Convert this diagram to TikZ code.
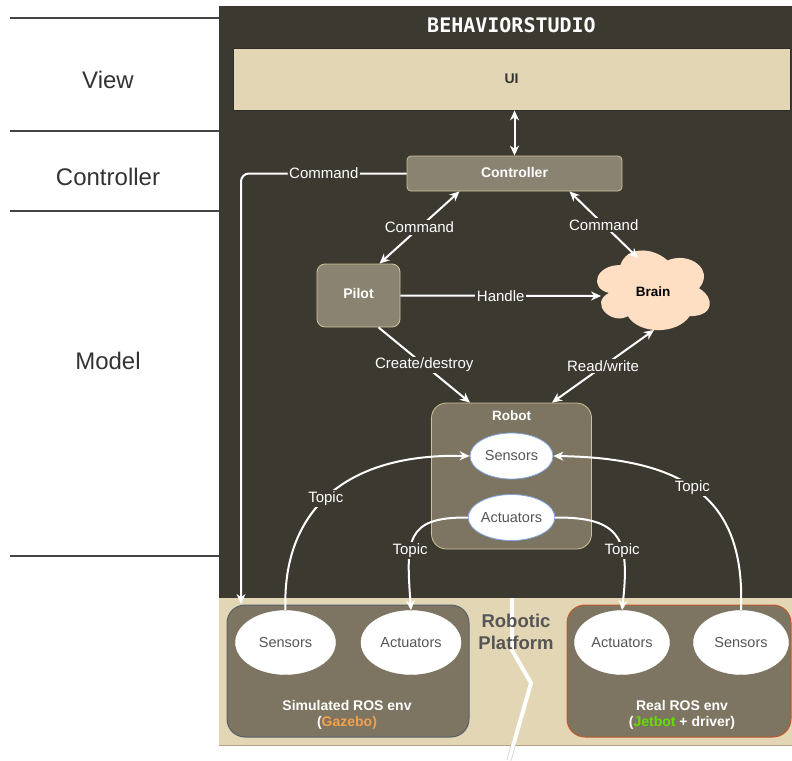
\documentclass[tikz,border=0pt]{standalone}
\usepackage{fontspec}
\setmainfont{Liberation Sans}
\newfontfamily\titlefont{DejaVu Sans Mono}
\usetikzlibrary{arrows.meta,shapes.geometric,calc}

\definecolor{darkbg}{HTML}{3C3931}
\definecolor{tanbg}{HTML}{E3D6B4}
\definecolor{tanedge}{HTML}{B3A47F}
\definecolor{boxfill}{HTML}{8A8371}
\definecolor{robfill}{HTML}{7D7562}
\definecolor{boxedge}{HTML}{CFC29B}
\definecolor{peach}{HTML}{FFDFC4}
\definecolor{ellipseedge}{HTML}{7EA6E0}
\definecolor{txtgray}{HTML}{555555}
\definecolor{layergray}{HTML}{333333}
\definecolor{rulegray}{HTML}{444444}
\definecolor{simedge}{HTML}{56606A}
\definecolor{realedge}{HTML}{C0582A}
\definecolor{gazebo}{HTML}{F5A04A}
\definecolor{jetbot}{HTML}{66DD00}

\begin{document}
\begin{tikzpicture}[x=1pt,y=-1pt,
  conn/.style={draw=white,line width=2pt},
  >={Stealth[length=10pt,width=9pt]},
  lbl/.style={fill=darkbg,text=white,inner sep=1.5pt,font=\fontsize{15}{17}\selectfont},
  layer/.style={text=layergray,font=\fontsize{24}{28}\selectfont},
  rule/.style={draw=rulegray,line width=1.5pt},
  smallbox/.style={rectangle,fill=boxfill,draw=boxedge,line width=0.8pt,text=white,
    font=\bfseries\fontsize{14}{16}\selectfont,inner sep=0pt},
  robellipse/.style={ellipse,fill=white,draw=ellipseedge,line width=0.8pt,inner sep=0pt,
    minimum width=83pt,minimum height=46pt,text=txtgray,font=\fontsize{14.5}{16}\selectfont},
  platellipse/.style={ellipse,fill=white,draw=white,inner sep=0pt,
    minimum width=100pt,minimum height=64pt,text=txtgray,font=\fontsize{14.5}{16}\selectfont},
  envbox/.style={rectangle,rounded corners=18pt,fill=robfill,line width=1pt,inner sep=0pt,
    minimum width=#1,minimum height=132pt},
  caption/.style={text=white,align=center,font=\bfseries\fontsize{14}{16}\selectfont}
]
\useasboundingbox (0,0) rectangle (792,760);

% layer bands
\fill[darkbg] (219,6) rectangle (792,598);
\fill[tanbg] (219,598) rectangle (792,745);
\draw[tanedge,line width=1pt] (219,745) -- (792,745);

% MVC layer rules and names
\draw[rule] (10,18) -- (219,18);
\draw[rule] (10,131) -- (219,131);
\draw[rule] (10,211) -- (219,211);
\draw[rule] (10,556) -- (219,556);
\node[layer] (lview) at (108,80) {View};
\node[layer] (lctrl) at (108,177) {Controller};
\node[layer] (lmodel) at (108,361) {Model};

% title and UI
\node[text=white,font=\titlefont\bfseries\fontsize{20}{22}\selectfont] (title) at (511.5,25) {BEHAVIORSTUDIO};
\node[rectangle,fill=tanbg,draw=darkbg!80!black,line width=0.8pt,minimum width=557pt,minimum height=62pt,
  text=layergray,font=\bfseries\fontsize{14}{16}\selectfont] (ui) at (511.5,79) {UI};

% controller and pilot
\node[smallbox,rounded corners=4pt,minimum width=215pt,minimum height=35pt] (ctrl) at (514.5,173.5) {\raisebox{2pt}{Controller}};
\node[smallbox,rounded corners=8pt,minimum width=83pt,minimum height=63pt] (pilot) at (358.5,295.5) {\raisebox{5pt}{Pilot}};

% brain cloud
\begin{scope}[shift={(588.8,241.8)},x=126pt,y=-93pt]
  \fill[peach] (0.25,0.25)
    .. controls (0.05,0.25) and (0,0.5) .. (0.16,0.55)
    .. controls (0,0.66) and (0.18,0.9) .. (0.31,0.8)
    .. controls (0.4,1) and (0.7,1) .. (0.8,0.8)
    .. controls (1,0.8) and (1,0.6) .. (0.875,0.5)
    .. controls (1,0.3) and (0.8,0.1) .. (0.625,0.2)
    .. controls (0.5,0.05) and (0.3,0.05) .. (0.25,0.25) -- cycle;
\end{scope}
\node[text=black,font=\bfseries\fontsize{13.5}{16}\selectfont] (brain) at (653,292) {Brain};
\coordinate (brainN) at (638,258);
\coordinate (brainW) at (601,296);
\coordinate (brainS) at (654,330);

% robot
\node[rectangle,rounded corners=15pt,fill=robfill,draw=boxedge,line width=0.8pt,minimum width=160pt,minimum height=146pt] (robot) at (511.5,476) {};
\node[text=white,font=\bfseries\fontsize{13.5}{16}\selectfont] (robottitle) at (511.5,416) {Robot};
\node[robellipse] (rsens) at (511.5,456) {Sensors};
\node[robellipse] (ract) at (511.5,517.5) {Actuators};

% platform divider
\draw[white,line width=4pt,line join=round] (512,598) -- (512,650) -- (531,683) -- (509,760);
\begin{scope}
  \clip (219,746) rectangle (792,760);
  \draw[gray!35,line width=5pt,line join=round] (531,683) -- (509,760);
  \draw[white,line width=3.5pt,line join=round] (531,683) -- (509,760);
\end{scope}
\node[text=txtgray,align=center,font=\bfseries\fontsize{18.5}{22}\selectfont] (platform) at (516,632) {Robotic\\Platform};

% simulated and real environments
\node[envbox=242pt,draw=simedge] (sim) at (348,671) {};
\node[envbox=224pt,draw=realedge] (real) at (679,671) {};
\node[platellipse] (simsens) at (285.5,642.5) {Sensors};
\node[platellipse] (simact) at (411,642.5) {Actuators};
\node[platellipse,minimum width=95pt] (realact) at (622,642.5) {Actuators};
\node[platellipse,minimum width=95pt] (realsens) at (741,642.5) {Sensors};
\node[caption] (simcap) at (347,715) {Simulated ROS env\\(\textcolor{gazebo}{Gazebo)}};
\node[caption] (realcap) at (682,715) {Real ROS env\\(\textcolor{jetbot}{Jetbot} + driver)};

% connectors
\coordinate (cmdend) at (241,604);
\draw[conn,<->] (ctrl.north |- ui.south) -- (ctrl.north);
\draw[conn,->,rounded corners=8pt] (ctrl.west) -| node[lbl,pos=0.25] {Command} (cmdend);
\draw[conn,<->] ([xshift=-55pt]ctrl.south) -- node[lbl] {Command} ([xshift=21pt]pilot.north);
\draw[conn,<->] ([xshift=55pt]ctrl.south) -- node[lbl] {Command} (brainN);
\draw[conn,->] (pilot.east) -- node[lbl] {Handle} (brainW);
\draw[conn,->] ([xshift=20pt]pilot.south) -- node[lbl] {Create/destroy} ([xshift=-41.5pt]robot.north);
\draw[conn,<->] (brainS) -- node[lbl] {Read/write} ([xshift=40.5pt]robot.north);

\draw[conn,->] (simsens.north) .. controls (282,520) and (335,453) .. node[lbl,pos=0.5] {Topic} (rsens.west);
\draw[conn,->] (realsens.north) .. controls (745,510) and (700,458) .. node[lbl,pos=0.56] {Topic} (rsens.east);
\draw[conn,->] (ract.west) .. controls (405,517) and (406,540) .. node[lbl,pos=0.63] {Topic} (simact.north);
\draw[conn,->] (ract.east) .. controls (622,517) and (630,540) .. node[lbl,pos=0.63] {Topic} (realact.north);
\end{tikzpicture}
\end{document}
